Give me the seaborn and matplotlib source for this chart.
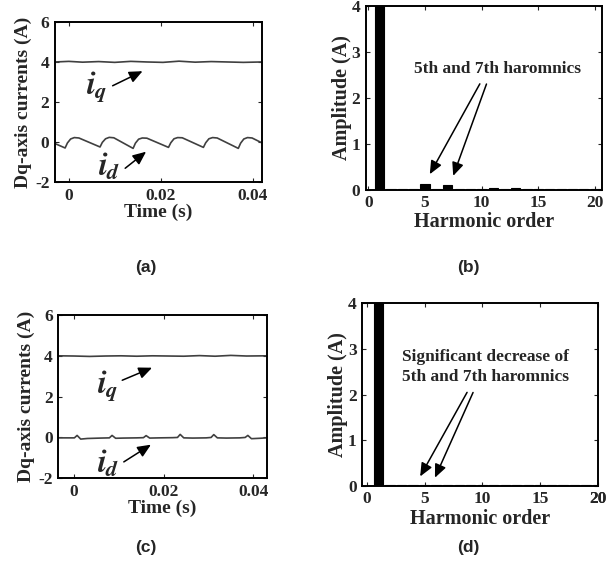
import matplotlib
matplotlib.use("Agg")
import matplotlib.pyplot as plt
import seaborn as sns

sns.set_style("ticks")
plt.rcParams["font.family"] = ["Liberation Serif", "DejaVu Serif"]
plt.rcParams["font.weight"] = "bold"
plt.rcParams["axes.labelweight"] = "bold"
plt.rcParams["axes.unicode_minus"] = False
plt.rcParams["mathtext.fontset"] = "stix"
plt.rcParams["xtick.direction"] = "in"
plt.rcParams["ytick.direction"] = "in"
plt.rcParams["xtick.top"] = True
plt.rcParams["ytick.right"] = True

# (a) dq currents, before compensation
t_a_id = [-0.0030, -0.0008, -0.0003, 0.0004, 0.0012, 0.0022,
          0.0068, 0.0073, 0.0080, 0.0088, 0.0098,
          0.0140, 0.0145, 0.0152, 0.0160, 0.0170,
          0.0217, 0.0222, 0.0229, 0.0237, 0.0247,
          0.0293, 0.0298, 0.0305, 0.0313, 0.0323,
          0.0369, 0.0374, 0.0381, 0.0389, 0.0399, 0.0420]
i_a_d = [-0.08, -0.30, -0.05, 0.15, 0.22, 0.20,
         -0.25, -0.02, 0.16, 0.23, 0.21,
         -0.32, -0.06, 0.14, 0.20, 0.19,
         -0.27, -0.04, 0.16, 0.22, 0.21,
         -0.27, -0.04, 0.16, 0.22, 0.20,
         -0.32, -0.06, 0.15, 0.22, 0.20, -0.04]
t_a_iq = [-0.0030, 0.0000, 0.0030, 0.0065, 0.0100, 0.0135, 0.0170,
          0.0205, 0.0240, 0.0275, 0.0310, 0.0345, 0.0380, 0.0420]
i_a_q = [4.00, 4.03, 3.99, 4.02, 3.98, 4.03, 4.00,
         3.98, 4.04, 3.99, 4.02, 4.00, 3.98, 4.00]

# (c) dq currents, after compensation
t_c_id = [-0.0035, 0.0001, 0.0007, 0.0015, 0.0030, 0.0060, 0.0079, 0.0085,
          0.0093, 0.0110, 0.0140, 0.0155, 0.0161, 0.0169, 0.0190, 0.0220,
          0.0231, 0.0237, 0.0245, 0.0265, 0.0295, 0.0306, 0.0312, 0.0320,
          0.0340, 0.0370, 0.0382, 0.0388, 0.0396, 0.0415, 0.0430]
i_c_d = [-0.02, -0.02, 0.10, -0.08, -0.05, -0.03, -0.02, 0.10,
         -0.04, -0.03, -0.02, -0.01, 0.09, -0.03, -0.02, -0.01,
         0.00, 0.15, -0.02, -0.03, -0.02, 0.00, 0.14, -0.02,
         -0.03, -0.02, 0.00, 0.10, -0.06, -0.04, -0.02]
t_c_iq = [-0.0035, 0.0000, 0.0035, 0.0070, 0.0105, 0.0140, 0.0175,
          0.0210, 0.0245, 0.0280, 0.0315, 0.0350, 0.0385, 0.0430]
i_c_q = [4.00, 3.99, 3.97, 3.99, 4.00, 3.98, 4.00,
         3.99, 3.98, 4.01, 3.98, 4.02, 3.99, 4.00]

# (b), (d) harmonic spectra
harmonic = list(range(1, 21))
amp_b = [4.6, 0.01, 0.01, 0.01, 0.13, 0.01, 0.10, 0.01, 0.01, 0.01,
         0.03, 0.01, 0.025, 0.01, 0.015, 0.01, 0.02, 0.01, 0.02, 0.01]
amp_d = [4.6, 0.01, 0.01, 0.01, 0.01, 0.01, 0.01, 0.01, 0.01, 0.01,
         0.01, 0.01, 0.01, 0.01, 0.01, 0.01, 0.01, 0.01, 0.01, 0.01]

time_ticks = [0, 0.02, 0.04]
time_ticklabels = ["0", "0.02", "0.04"]
cur_ticks = [-2, 0, 2, 4, 6]
amp_ticks = [0, 1, 2, 3, 4]
harm_ticks = [0, 5, 10, 15, 20]

fig = plt.figure(figsize=(6.16, 5.75), dpi=100)
ax_a = fig.add_axes([0.0893, 0.6835, 0.3356, 0.2783])
ax_b = fig.add_axes([0.5942, 0.6704, 0.3831, 0.3200])
ax_c = fig.add_axes([0.0946, 0.1682, 0.3383, 0.2840])
ax_d = fig.add_axes([0.5881, 0.1553, 0.3821, 0.3172])

arrow = dict(arrowstyle="-|>,head_length=0.8,head_width=0.35", color="black", lw=1.1)
line_col = "#404040"


def style(ax):
    for s in ax.spines.values():
        s.set_linewidth(1.4)
        s.set_color("black")
    ax.tick_params(length=3, width=0.8, labelsize=12.5, pad=4)
    for lab in ax.get_xticklabels() + ax.get_yticklabels():
        lab.set_fontweight("bold")


def current_panel(ax, tq, iq, td, idd, xlim, q_txt, q_arr, d_txt, d_arr):
    sns.lineplot(x=tq, y=iq, ax=ax, color=line_col, lw=1.2, estimator=None, sort=False)
    sns.lineplot(x=td, y=idd, ax=ax, color=line_col, lw=1.2, estimator=None, sort=False)
    ax.set_xlim(*xlim)
    ax.set_ylim(-2, 6)
    ax.set_xticks(time_ticks)
    ax.set_xticklabels(time_ticklabels)
    ax.set_yticks(cur_ticks)
    ax.set_xlabel("Time (s)", fontsize=14, labelpad=0)
    ax.set_ylabel("Dq-axis currents (A)", fontsize=14, labelpad=2)
    ax.annotate("", xy=q_arr[1], xytext=q_arr[0], arrowprops=arrow)
    ax.annotate("", xy=d_arr[1], xytext=d_arr[0], arrowprops=arrow)
    ax.text(*q_txt, r"$i_q$", fontsize=23, ha="center", va="center")
    ax.text(*d_txt, r"$i_d$", fontsize=23, ha="center", va="center")
    style(ax)


def spectrum_panel(ax, amp, xlim, txt, txt_xy, arr_starts, arr_tips):
    sns.barplot(x=harmonic, y=amp, ax=ax, native_scale=True, color="black",
                saturation=1, width=0.8, errorbar=None, edgecolor="black", linewidth=0.8)
    ax.set_xlim(*xlim)
    ax.set_ylim(0, 4)
    ax.set_xticks(harm_ticks)
    ax.set_yticks(amp_ticks)
    ax.set_xlabel("Harmonic order", fontsize=14.5, labelpad=1)
    ax.set_ylabel("Amplitude (A)", fontsize=14.5, labelpad=0)
    ax.text(*txt_xy, txt, fontsize=12.5, ha="center", va="center", linespacing=1.3)
    for s, e in zip(arr_starts, arr_tips):
        ax.annotate("", xy=e, xytext=s, arrowprops=arrow)
    style(ax)


current_panel(ax_a, t_a_iq, i_a_q, t_a_id, i_a_d, (-0.003, 0.042),
              (0.0060, 2.75), ((0.0090, 2.75), (0.0166, 3.6)),
              (0.0088, -1.25), ((0.0118, -1.4), (0.0173, -0.4)))
current_panel(ax_c, t_c_iq, i_c_q, t_c_id, i_c_d, (-0.0035, 0.043),
              (0.0075, 2.55), ((0.0102, 2.75), (0.0180, 3.47)),
              (0.0077, -1.27), ((0.0106, -1.27), (0.0177, -0.28)))

spectrum_panel(ax_b, amp_b, (-0.2, 20.6), "5th and 7th haromnics", (11.4, 2.62),
               [(9.95, 2.35), (10.5, 2.35)], [(5.3, 0.28), (7.4, 0.24)])
spectrum_panel(ax_d, amp_d, (-0.4, 19.4), "Significant decrease of\n5th and 7th haromnics",
               (10.3, 2.6), [(8.8, 2.1), (9.3, 2.1)], [(4.5, 0.15), (5.8, 0.12)])
# the "20" tick of (d) sits just past the right edge of the frame
ax_d.annotate("20", xy=(20, 0), xycoords=("data", "axes fraction"), xytext=(0, -4),
              textcoords="offset points", ha="center", va="top", fontsize=12.5,
              fontweight="bold", annotation_clip=False)

for lab, (x, y) in zip(["(a)", "(b)", "(c)", "(d)"],
                       [(0.237, 0.535), (0.760, 0.535), (0.237, 0.047), (0.760, 0.047)]):
    fig.text(x, y, lab, fontsize=12.5, fontweight="bold", ha="center", va="center",
             family=["Liberation Sans", "DejaVu Sans"])

fig.savefig("out.png", dpi=100, facecolor="white")
